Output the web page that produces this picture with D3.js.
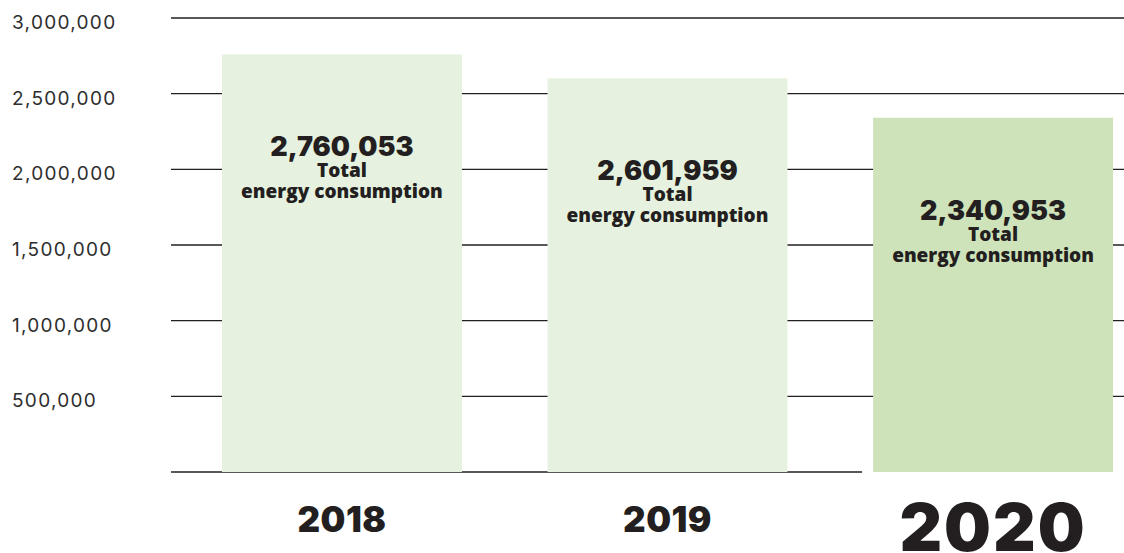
<!DOCTYPE html>
<html>
<head>
<meta charset="utf-8">
<script src="https://cdn.jsdelivr.net/npm/d3@7"></script>
<style>
  html, body { margin: 0; padding: 0; background: #ffffff; }
  svg { display: block; }
</style>
</head>
<body>
<svg id="chart" width="1124" height="553"></svg>
<script>
// Total energy consumption per year
const years = ["2018", "2019", "2020"];
const consumption = [2760053, 2601959, 2340953];

// Y axis ticks
const tickValues = [500000, 1000000, 1500000, 2000000, 2500000, 3000000];
const tickLabels = ["500,000", "1,000,000", "1,500,000", "2,000,000", "2,500,000", "3,000,000"];

// Caption printed under each value
const captionLines = ["Total", "energy consumption"];

const INK = "#231f20";
const BAR_LIGHT = "#e6f2df";
const BAR_CURRENT = "#cfe3bb";

const svg = d3.select("#chart");

const y = d3.scaleLinear().domain([0, 3000000]).range([472, 18]);
const x = d3.scaleBand().domain(years).range([222, 1113]).paddingInner(0.263).paddingOuter(0);

const gridLeft = 171;
const gridRight = 1124;

// Horizontal grid lines (drawn behind bars)
svg.append("g")
  .selectAll("line")
  .data(tickValues)
  .join("line")
  .attr("x1", gridLeft)
  .attr("x2", gridRight)
  .attr("y1", d => y(d))
  .attr("y2", d => y(d))
  .attr("stroke", INK)
  .attr("stroke-width", 1.3);

// Baseline stops before the last bar
svg.append("line")
  .attr("x1", gridLeft)
  .attr("x2", x(years[years.length - 1]) - 11)
  .attr("y1", y(0))
  .attr("y2", y(0))
  .attr("stroke", INK)
  .attr("stroke-width", 1.3);

// Y tick labels
svg.append("g")
  .selectAll("text")
  .data(tickValues)
  .join("text")
  .attr("x", 12)
  .attr("y", d => y(d) + 11)
  .attr("fill", "#2e2e2e")
  .style("font-family", "Inter, 'DejaVu Sans', sans-serif")
  .style("font-size", "19px")
  .style("font-weight", 400)
  .style("letter-spacing", "1.3px")
  .text((d, i) => tickLabels[i]);

const rows = years.map((yr, i) => ({ year: yr, value: consumption[i], current: i === years.length - 1 }));

// Bars
svg.append("g")
  .selectAll("rect")
  .data(rows)
  .join("rect")
  .attr("x", d => x(d.year))
  .attr("y", d => y(d.value))
  .attr("width", x.bandwidth())
  .attr("height", d => y(0) - y(d.value))
  .attr("fill", d => d.current ? BAR_CURRENT : BAR_LIGHT);

// Value labels inside bars
const fmt = d3.format(",");
const labels = svg.append("g")
  .selectAll("g")
  .data(rows)
  .join("g")
  .attr("transform", d => `translate(${x(d.year) + x.bandwidth() / 2},${y(d.value) + 102})`)
  .attr("fill", INK)
  .attr("text-anchor", "middle");

labels.append("text")
  .style("font-family", "Inter, sans-serif")
  .style("font-size", "27px")
  .style("font-weight", 900)
  .text(d => fmt(d.value));

labels.append("text")
  .attr("y", 21)
  .style("font-family", "'Open Sans', sans-serif")
  .style("font-size", "19px")
  .style("font-weight", 800)
  .text(captionLines[0]);

labels.append("text")
  .attr("y", 42)
  .style("font-family", "'Open Sans', sans-serif")
  .style("font-size", "19px")
  .style("font-weight", 800)
  .text(captionLines[1]);

// Year labels, latest year emphasised
svg.append("g")
  .selectAll("text")
  .data(rows)
  .join("text")
  .attr("x", d => x(d.year) + x.bandwidth() / 2)
  .attr("y", d => d.current ? 551 : 532)
  .attr("text-anchor", "middle")
  .attr("fill", INK)
  .style("font-family", "Inter, sans-serif")
  .style("font-size", d => d.current ? "66px" : "35px")
  .style("letter-spacing", d => d.current ? "2px" : "0.5px")
  .style("font-weight", 900)
  .text(d => d.year);
</script>
</body>
</html>
